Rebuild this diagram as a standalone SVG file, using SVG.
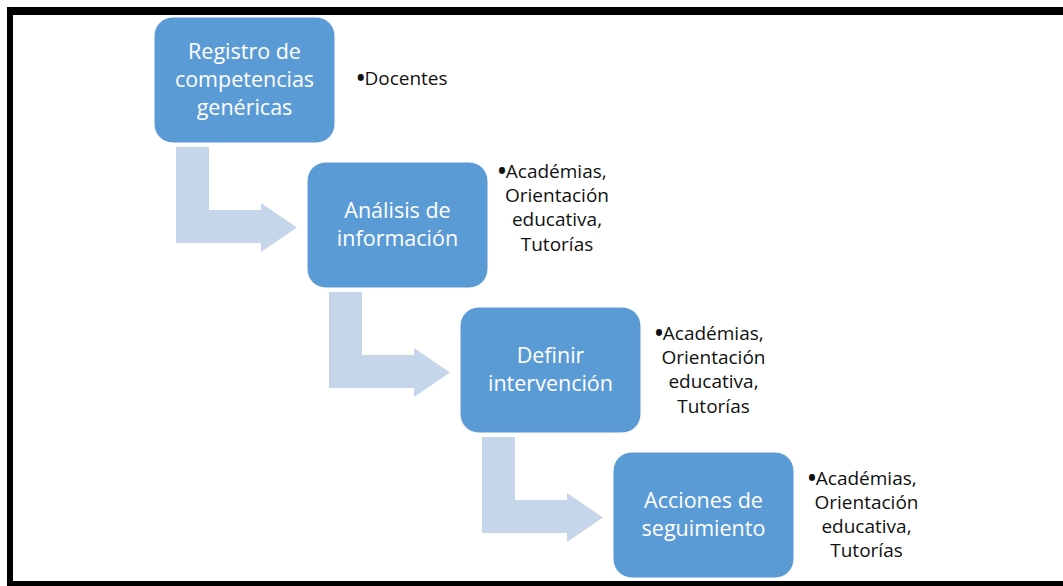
<svg xmlns="http://www.w3.org/2000/svg" width="1063" height="586" viewBox="0 0 1063 586">
  <style>
    .box { fill: #5B9BD5; stroke: #ffffff; stroke-width: 1; }
    .btxt { font-family: "Open Sans", "Liberation Sans", sans-serif; font-size: 21.5px; fill: #ffffff; text-anchor: middle; }
    .side { font-family: "Open Sans", "Liberation Sans", sans-serif; font-size: 19px; fill: #111111; text-anchor: middle; }
    .bul { font-weight: 800; }
    .arrow { fill: #C5D5EA; }
    .frame { fill: #000000; }
  </style>
  <rect width="1063" height="586" fill="#ffffff"/>
  <g id="frame">
    <rect class="frame" x="7" y="7" width="1056" height="8"/>
    <rect class="frame" x="7" y="7" width="6" height="579"/>
    <rect class="frame" x="7" y="581" width="1056" height="5"/>
  </g>
  <g id="connectors">
    <path class="arrow" d="M176,147 L209,147 L209,210 L261,210 L261,203 L297,227.5 L261,252 L261,243 L176,243 Z"/>
    <path class="arrow" transform="translate(153,145)" d="M176,147 L209,147 L209,210 L261,210 L261,203 L297,227.5 L261,252 L261,243 L176,243 Z"/>
    <path class="arrow" transform="translate(306,290)" d="M176,147 L209,147 L209,210 L261,210 L261,203 L297,227.5 L261,252 L261,243 L176,243 Z"/>
  </g>
  <g id="node1">
    <rect class="box" x="154" y="17" width="181" height="126" rx="19"/>
    <text class="btxt" x="244.5" y="59">Registro de</text>
    <text class="btxt" x="244.5" y="87">competencias</text>
    <text class="btxt" x="244.5" y="115">genéricas</text>
  </g>
  <g id="node2">
    <rect class="box" x="307" y="162" width="181" height="126" rx="19"/>
    <text class="btxt" x="397.5" y="218">Análisis de</text>
    <text class="btxt" x="397.5" y="246">información</text>
  </g>
  <g id="node3">
    <rect class="box" x="460" y="307" width="181" height="126" rx="19"/>
    <text class="btxt" x="550.5" y="363">Definir</text>
    <text class="btxt" x="550.5" y="391">intervención</text>
  </g>
  <g id="node4">
    <rect class="box" x="613" y="452" width="181" height="126" rx="19"/>
    <text class="btxt" x="703.5" y="508">Acciones de</text>
    <text class="btxt" x="703.5" y="536">seguimiento</text>
  </g>
  <g id="note1">
    <text class="side" x="357" y="85" style="text-anchor:start"><tspan class="bul">•</tspan>Docentes</text>
  </g>
  <g id="note2">
    <text class="side" x="552.5" y="178"><tspan class="bul">•</tspan>Académias,</text>
    <text class="side" x="557" y="202">Orientación</text>
    <text class="side" x="557" y="226">educativa,</text>
    <text class="side" x="557" y="251">Tutorías</text>
  </g>
  <g id="note3">
    <text class="side" x="709.5" y="340"><tspan class="bul">•</tspan>Académias,</text>
    <text class="side" x="713.5" y="364">Orientación</text>
    <text class="side" x="713.5" y="388">educativa,</text>
    <text class="side" x="713.5" y="413">Tutorías</text>
  </g>
  <g id="note4">
    <text class="side" x="862.5" y="485"><tspan class="bul">•</tspan>Académias,</text>
    <text class="side" x="866.5" y="509">Orientación</text>
    <text class="side" x="866.5" y="533">educativa,</text>
    <text class="side" x="866.5" y="557">Tutorías</text>
  </g>
</svg>
